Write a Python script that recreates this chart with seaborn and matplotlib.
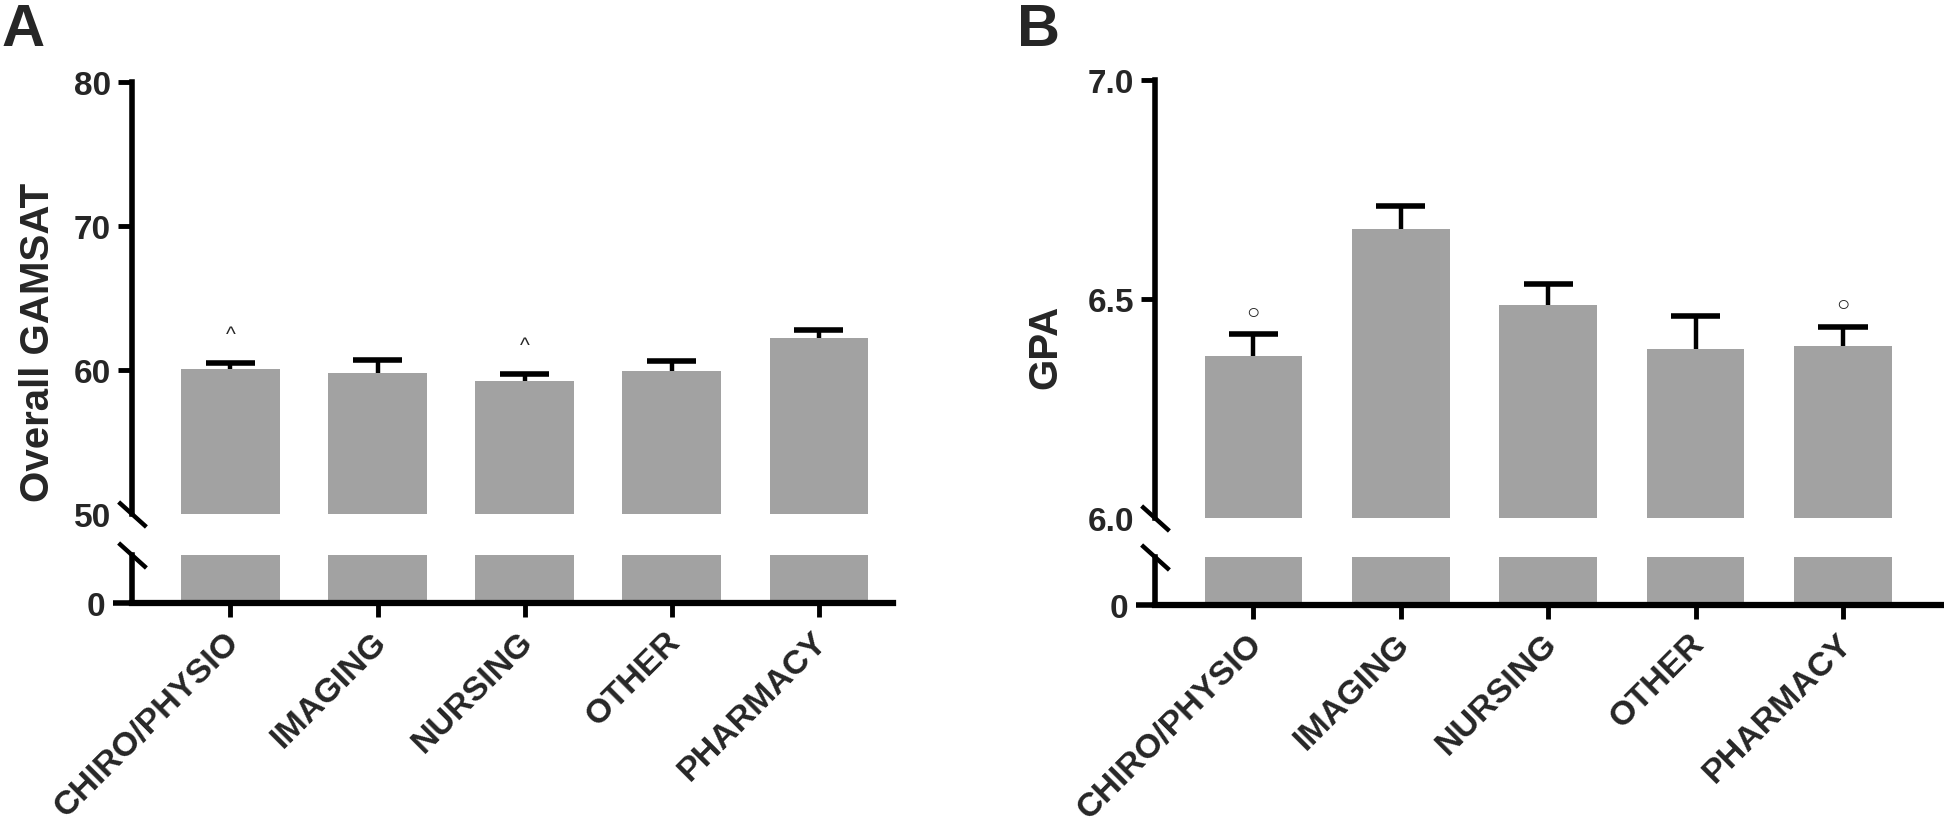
import numpy as np
import pandas as pd
import matplotlib
matplotlib.use('Agg')
from matplotlib import pyplot as plt
from matplotlib.transforms import ScaledTranslation
import seaborn as sns

# data
categories = ['CHIRO/PHYSIO', 'IMAGING', 'NURSING', 'OTHER', 'PHARMACY']
gamsat_mean = [60.1, 59.8, 59.25, 59.9, 62.2]
gamsat_err = [0.4, 0.9, 0.45, 0.75, 0.6]
gamsat_marks = ['^', '', '^', '', '']
gpa_mean = [6.371, 6.661, 6.486, 6.386, 6.392]
gpa_err = [0.049, 0.052, 0.049, 0.076, 0.045]
gpa_marks = ['○', '', '', '', '○']

gamsat_ticks = [50, 60, 70, 80]
gpa_ticks = [6.0, 6.5, 7.0]
gpa_ticklabels = ['6.0', '6.5', '7.0']

BAR = '#a2a2a2'

sns.set_style('white')
plt.rcParams['font.family'] = ['Liberation Sans', 'DejaVu Sans']
plt.rcParams['font.weight'] = 'bold'

fig = plt.figure(figsize=(19.44, 8.37), dpi=100)

panels = [
    dict(letter='A', lx=0.001, up=[0.0679, 0.3847, 0.3915, 0.5161], lo=[0.0679, 0.2784, 0.3915, 0.0573],
         xlim=(-0.670, 4.507), width=0.667, mean=gamsat_mean, err=gamsat_err, marks=gamsat_marks,
         ylim=(50, 80), ticks=gamsat_ticks, ticklabels=[str(t) for t in gamsat_ticks],
         ylabel='Overall GAMSAT', lpos=(-0.124, 0.40), off=2.0, msize=15),
    dict(letter='B', lx=0.523, up=[0.5941, 0.3799, 0.4059, 0.5233], lo=[0.5941, 0.2760, 0.4059, 0.0573],
         xlim=(-0.668, 4.685), width=0.661, mean=gpa_mean, err=gpa_err, marks=gpa_marks,
         ylim=(6.0, 7.0), ticks=gpa_ticks, ticklabels=gpa_ticklabels,
         ylabel='GPA', lpos=(-0.139, 0.393), off=0.05, msize=16),
]

for p in panels:
    ax_up = fig.add_axes(p['up'])
    ax_lo = fig.add_axes(p['lo'])
    df = pd.DataFrame({'cat': categories, 'val': p['mean']})
    for ax in (ax_up, ax_lo):
        sns.barplot(data=df, x='cat', y='val', ax=ax, color=BAR, saturation=1,
                    width=p['width'], errorbar=None, linewidth=0)
        ax.set_xlim(p['xlim'])
        ax.set_xlabel('')
        ax.set_ylabel('')
        for s in ['top', 'right']:
            ax.spines[s].set_visible(False)
        ax.spines['left'].set_linewidth(4)
        ax.spines['left'].set_color('black')

    # upper part of the broken axis
    ax_up.set_ylim(p['ylim'])
    ax_up.spines['bottom'].set_visible(False)
    ax_up.set_xticks([])
    ax_up.set_yticks(p['ticks'])
    ax_up.set_yticklabels(p['ticklabels'])
    ax_up.tick_params(axis='y', left=True, length=10, width=3.5, pad=5, labelsize=24, color='black')
    ax_up.yaxis.get_major_ticks()[0].tick1line.set_visible(False)
    ax_up.set_ylabel(p['ylabel'], fontsize=29, fontweight='bold', va='center')
    ax_up.yaxis.set_label_coords(*p['lpos'])

    # error bars (upper only) and significance marks
    x = np.arange(len(categories))
    m = np.array(p['mean'])
    e = np.array(p['err'])
    ax_up.vlines(x, m, m + e, color='black', linewidth=3.2)
    ax_up.hlines(m + e, x - 0.167, x + 0.167, color='black', linewidth=4)
    for xi, top, mk in zip(x, m + e, p['marks']):
        if mk:
            ax_up.text(xi, top + p['off'], mk, ha='center', va='center', fontsize=p['msize'],
                       fontweight='normal')

    # lower part
    ax_lo.set_ylim(0, 1)
    ax_lo.set_yticks([0])
    ax_lo.set_yticklabels(['0'])
    ax_lo.tick_params(axis='y', left=True, length=14, width=4, pad=5, labelsize=24, color='black')
    ax_lo.spines['bottom'].set_linewidth(4.5)
    ax_lo.spines['bottom'].set_color('black')
    ax_lo.tick_params(axis='x', bottom=True, length=10, width=3.5, pad=14, labelsize=24.5, color='black')
    ax_lo.set_xticks(x)
    ax_lo.set_xticklabels(categories, rotation=45, ha='right', va='center',
                          rotation_mode='anchor', fontweight='bold')
    for lab in ax_lo.get_xticklabels():
        lab.set_transform(lab.get_transform() + ScaledTranslation(3 / 72, 0, fig.dpi_scale_trans))

    # break marks
    slash = [(-1, 0.9), (1, -0.9)]
    ax_up.plot([0], [0], transform=ax_up.transAxes, marker=slash, markersize=20,
               color='black', mew=3.2, linestyle='none', clip_on=False)
    ax_lo.plot([0], [1], transform=ax_lo.transAxes, marker=slash, markersize=20,
               color='black', mew=3.2, linestyle='none', clip_on=False)

    fig.text(p['lx'], 0.997, p['letter'], fontsize=43, fontweight='bold', va='top', ha='left')

plt.savefig('out.png', dpi=100)
plt.close()
